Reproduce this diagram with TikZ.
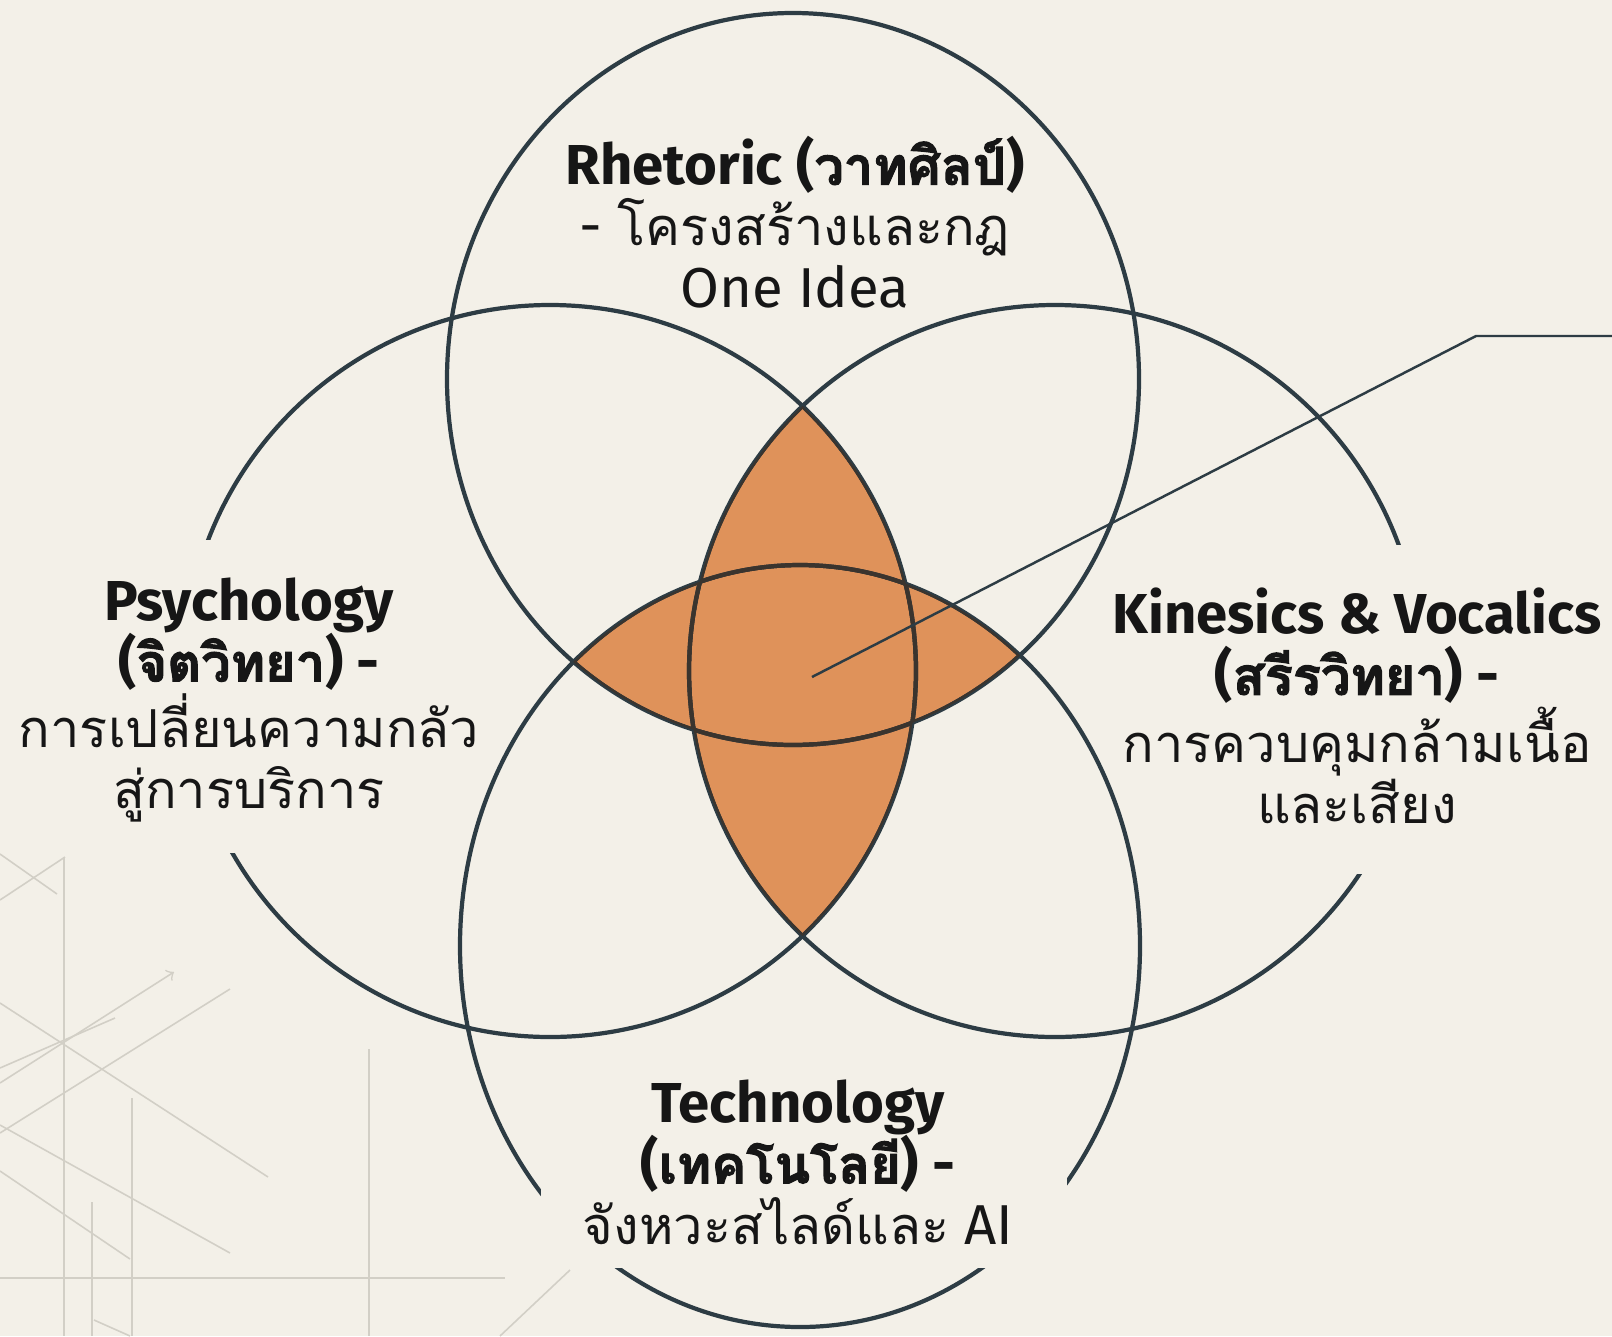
\documentclass[tikz,border=0pt]{standalone}
\usepackage{fontspec}
\setmainfont{Fira Sans}
\newfontfamily\thaifont[Script=Thai, Scale=0.93]{Loma}
\newfontfamily\thaiboldfont[Script=Thai, Scale=0.93, FakeBold=2.2]{Loma}
\newcommand{\thai}[1]{{\thaifont #1}}
\newcommand{\thaib}[1]{{\thaiboldfont #1}}
\usetikzlibrary{arrows}
\definecolor{paper}{RGB}{243,240,232}
\definecolor{ringcol}{RGB}{45,60,68}
\definecolor{lensfill}{RGB}{223,146,90}
\definecolor{lensedge}{RGB}{58,52,46}
\definecolor{ink}{RGB}{22,22,22}
\definecolor{sketchcol}{RGB}{210,207,198}
\tikzset{
    ring/.style={draw=ringcol, line width=1.2pt},
    sketch/.style={draw=sketchcol, line width=0.45pt},
    blurb/.style={align=center, text=ink, font=\fontsize{16pt}{17.4pt}\selectfont, inner sep=0pt}
}
\def\ringT{(793,379) ellipse [x radius=346, y radius=366]}
\def\ringL{(550,671) circle [radius=366]}
\def\ringR{(1055,671) circle [radius=366]}
\def\ringB{(800,946) ellipse [x radius=340, y radius=381]}

\begin{document}
\begin{tikzpicture}[x=0.01cm, y=-0.01cm]
    \fill[paper] (0,0) rectangle (1612,1336);
    \useasboundingbox (0,0) rectangle (1612,1336);

    % faint sketch lines, lower left
    \begin{scope}
        \clip (0,0) rectangle (1612,1336);
        \draw[sketch] (0,854) -- (57,894);
        \draw[sketch] (0,900) -- (65,857);
        \draw[sketch] (64,857) -- (64,1336);
        \draw[sketch] (92,1202) -- (92,1336);
        \draw[sketch] (132,1098) -- (132,1336);
        \draw[sketch] (369,1049) -- (369,1336);
        \draw[sketch] (0,1278) -- (505,1278);
        \draw[sketch] (0,1068) -- (115,1018);
        \draw[sketch] (0,1133) -- (230,989);
        \draw[sketch] (0,1003) -- (268,1177);
        \draw[sketch] (0,1125) -- (230,1253);
        \draw[sketch] (0,1171) -- (130,1259);
        \draw[sketch] (94,1320) -- (130,1336);
        \draw[sketch] (500,1336) -- (570,1270);
        \draw[sketch, ->] (0,1083) -- (174,972);
    \end{scope}

    % shared parts
    \begin{scope}
        \clip \ringL;
        \fill[lensfill] \ringR;
    \end{scope}
    \begin{scope}
        \clip \ringT;
        \fill[lensfill] \ringB;
    \end{scope}

    \draw[ring] \ringT;
    \draw[ring] \ringL;
    \draw[ring] \ringR;
    \draw[ring] \ringB;

    \begin{scope}
        \clip \ringL; \clip \ringR;
        \draw[ring, draw=lensedge] \ringT;
        \draw[ring, draw=lensedge] \ringB;
        \draw[ring, draw=lensedge] \ringL;
        \draw[ring, draw=lensedge] \ringR;
    \end{scope}
    \begin{scope}
        \clip \ringT; \clip \ringB;
        \draw[ring, draw=lensedge] \ringT;
        \draw[ring, draw=lensedge] \ringB;
        \draw[ring, draw=lensedge] \ringL;
        \draw[ring, draw=lensedge] \ringR;
    \end{scope}

    % gaps behind the side and bottom texts
    \fill[paper] (150,540) rectangle (262,853);
    \fill[paper] (1340,545) rectangle (1470,874);
    \fill[paper] (541,1100) rectangle (1067,1268);

    % leader
    \coordinate (hub) at (812,677);
    \coordinate (elbow) at (1476,336);
    \coordinate (tail) at (1612,336);
    \draw[draw=ringcol, line width=0.7pt] (hub) -- (elbow) -- (tail);

    \node[blurb] (rhetoric) at (795,222) {
        \textbf{Rhetoric (\thaib{วาทศิลป์})}\\
        - \thai{โครงสร้างและกฎ}\\
        One Idea
    };
    \node[blurb] (psychology) at (249,700) {
        \textbf{Psychology}\\
        \textbf{(\thaib{จิตวิทยา}) -}\\
        \thai{การเปลี่ยนความกลัว}\\
        \thai{สู่การบริการ}
    };
    \node[blurb] (kinesics) at (1357,706) {
        \textbf{Kinesics \& Vocalics}\\
        \textbf{(\thaib{สรีรวิทยา}) -}\\
        \thai{การควบคุมกล้ามเนื้อ}\\
        \thai{และเสียง}
    };
    \node[blurb] (technology) at (798,1162) {
        \textbf{Technology}\\
        \textbf{(\thaib{เทคโนโลยี}) -}\\
        \thai{จังหวะสไลด์และ} AI
    };
\end{tikzpicture}
\end{document}
